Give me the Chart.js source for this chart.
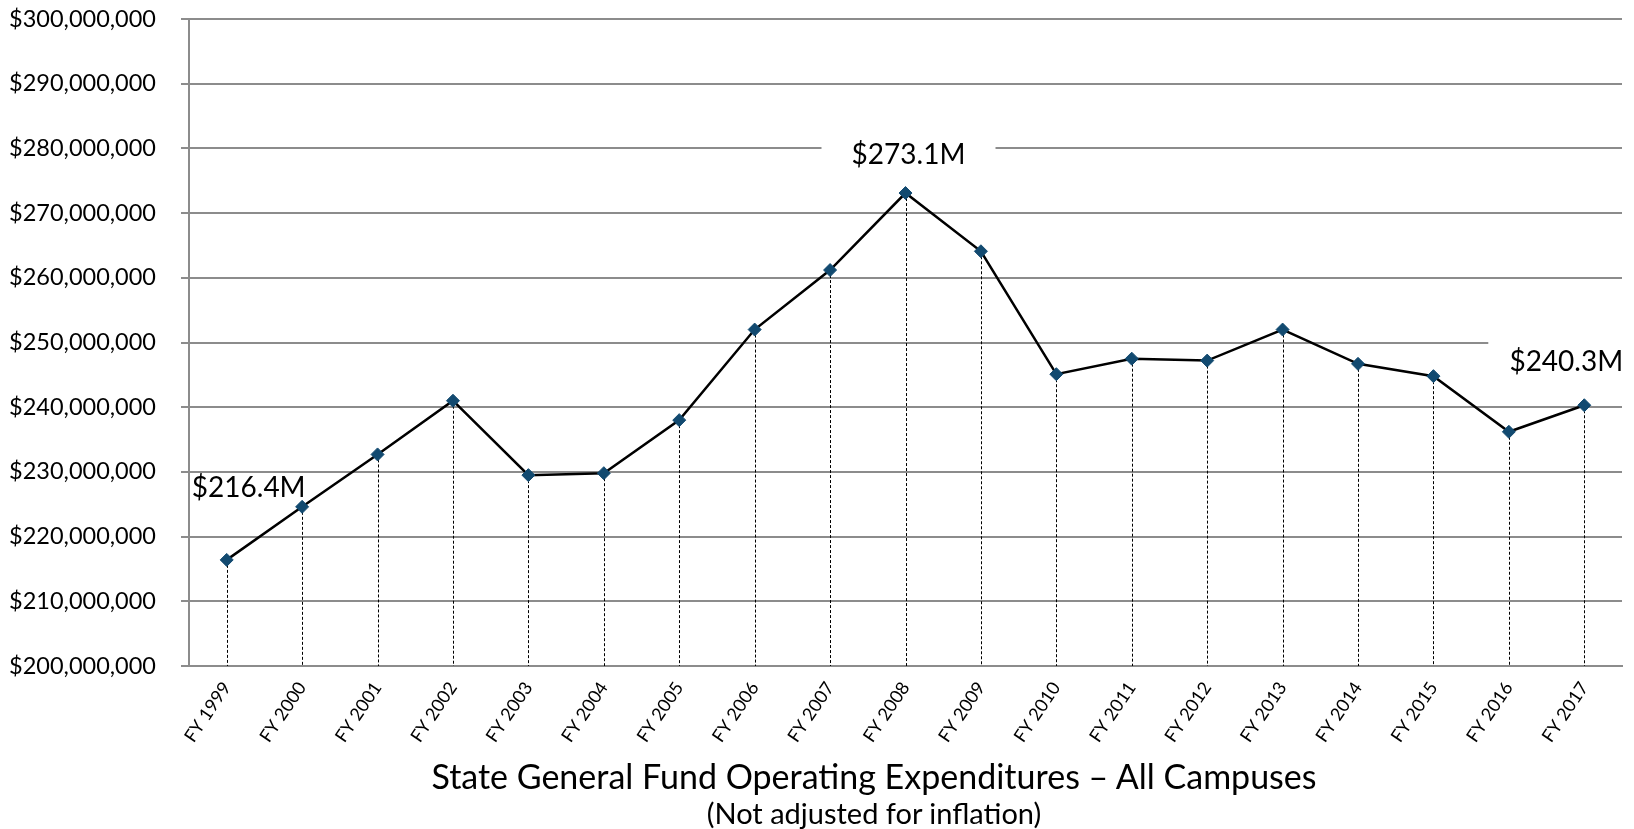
<!DOCTYPE html>
<html>
<head>
<meta charset="utf-8">
<script src="https://cdn.jsdelivr.net/npm/chart.js"></script>
<style>
  html, body { margin: 0; padding: 0; background: #fff; }
  #wrap { position: relative; width: 1634px; height: 829px; }
  .ttl { position: absolute; left: 0; width: 1748px; text-align: center; font-family: Lato, sans-serif; color: #000; white-space: nowrap; line-height: 1.2; }
  #t1 { top: 756px; font-size: 34px; }
  #t2 { top: 796px; font-size: 29px; }
</style>
</head>
<body>
<div id="wrap">
  <canvas id="chart"></canvas>
  <div class="ttl" id="t1">State General Fund Operating Expenditures – All Campuses</div>
  <div class="ttl" id="t2">(Not adjusted for inflation)</div>
</div>
<script>
const years = ['FY 1999', 'FY 2000', 'FY 2001', 'FY 2002', 'FY 2003', 'FY 2004', 'FY 2005',
  'FY 2006', 'FY 2007', 'FY 2008', 'FY 2009', 'FY 2010', 'FY 2011', 'FY 2012', 'FY 2013',
  'FY 2014', 'FY 2015', 'FY 2016', 'FY 2017'];

// dollars
const expenditures = [216.4e6, 224.6e6, 232.7e6, 241.0e6, 229.5e6, 229.8e6, 238.0e6,
  252.0e6, 261.2e6, 273.1e6, 264.1e6, 245.1e6, 247.5e6, 247.2e6, 252.0e6,
  246.7e6, 244.8e6, 236.2e6, 240.3e6];

const calloutIndex = [0, 9, 18];
const calloutText = ['$216.4M', '$273.1M', '$240.3M'];

const yMin = 200e6, yMax = 300e6, yStep = 10e6;

// text offset from its point, and the white box behind it
const calloutStyle = [
  { dx: 22, dy: -72, boxL: 0, boxR: 0 },
  { dx: 3, dy: -38, boxL: -87, boxR: 87 },
  { dx: -18, dy: -43, boxL: -78, boxR: 80 },
];

const fmtMoney = v => '$' + Math.round(v).toLocaleString('en-US');

const dropAndCallouts = {
  id: 'dropAndCallouts',
  beforeDatasetsDraw(chart) {
    const { ctx, chartArea } = chart;
    const meta = chart.getDatasetMeta(0);
    ctx.save();
    // callout text with white backing
    ctx.font = '28px Lato';
    ctx.textAlign = 'center';
    ctx.textBaseline = 'middle';
    calloutIndex.forEach((idx, k) => {
      const pt = meta.data[idx];
      const st = calloutStyle[k];
      const cx = pt.x + st.dx, cy = pt.y + st.dy;
      if (st.boxR > st.boxL) {
        ctx.fillStyle = '#fff';
        ctx.fillRect(cx + st.boxL, cy - 24, st.boxR - st.boxL, 44);
      }
      ctx.fillStyle = '#000';
      ctx.fillText(calloutText[k], cx, cy);
    });
    // dotted drop lines
    ctx.strokeStyle = '#000';
    ctx.lineWidth = 1;
    ctx.setLineDash([3, 2]);
    meta.data.forEach(pt => {
      ctx.beginPath();
      ctx.moveTo(Math.round(pt.x) + 0.5, pt.y);
      ctx.lineTo(Math.round(pt.x) + 0.5, chartArea.bottom);
      ctx.stroke();
    });
    ctx.restore();
  }
};

new Chart(document.getElementById('chart'), {
  type: 'line',
  data: {
    labels: years,
    datasets: [{
      data: expenditures,
      borderColor: '#000',
      borderWidth: 2.5,
      tension: 0,
      pointStyle: 'rectRot',
      pointRadius: 6.5,
      pointBackgroundColor: '#124a70',
      pointBorderColor: '#124a70',
      pointBorderWidth: 1,
    }],
  },
  options: {
    responsive: true,
    maintainAspectRatio: false,
    animation: false,
    layout: { padding: { top: 19, right: 12, bottom: 84, left: 0 } },
    plugins: {
      legend: { display: false },
      tooltip: { enabled: false },
    },
    scales: {
      x: {
        offset: true,
        grid: { display: false, drawTicks: false },
        border: { color: '#8c8c8c', width: 2 },
        ticks: {
          color: '#000',
          font: { family: 'Lato', size: 18 },
          minRotation: 56,
          maxRotation: 56,
          padding: 12,
          autoSkip: false,
        },
        afterFit: s => { s.height = 79; s.paddingLeft = 0; s.paddingRight = 0; },
      },
      y: {
        min: yMin,
        max: yMax,
        grid: { color: '#8c8c8c', lineWidth: 2, tickLength: 8 },
        border: { color: '#8c8c8c', width: 2 },
        ticks: {
          stepSize: yStep,
          color: '#000',
          font: { family: 'Lato', size: 23.5 },
          padding: 25,
          callback: v => fmtMoney(v),
        },
        afterFit: s => { s.width = 189; s.paddingTop = 0; s.paddingBottom = 0; },
      },
    },
  },
  plugins: [dropAndCallouts],
});
</script>
</body>
</html>
